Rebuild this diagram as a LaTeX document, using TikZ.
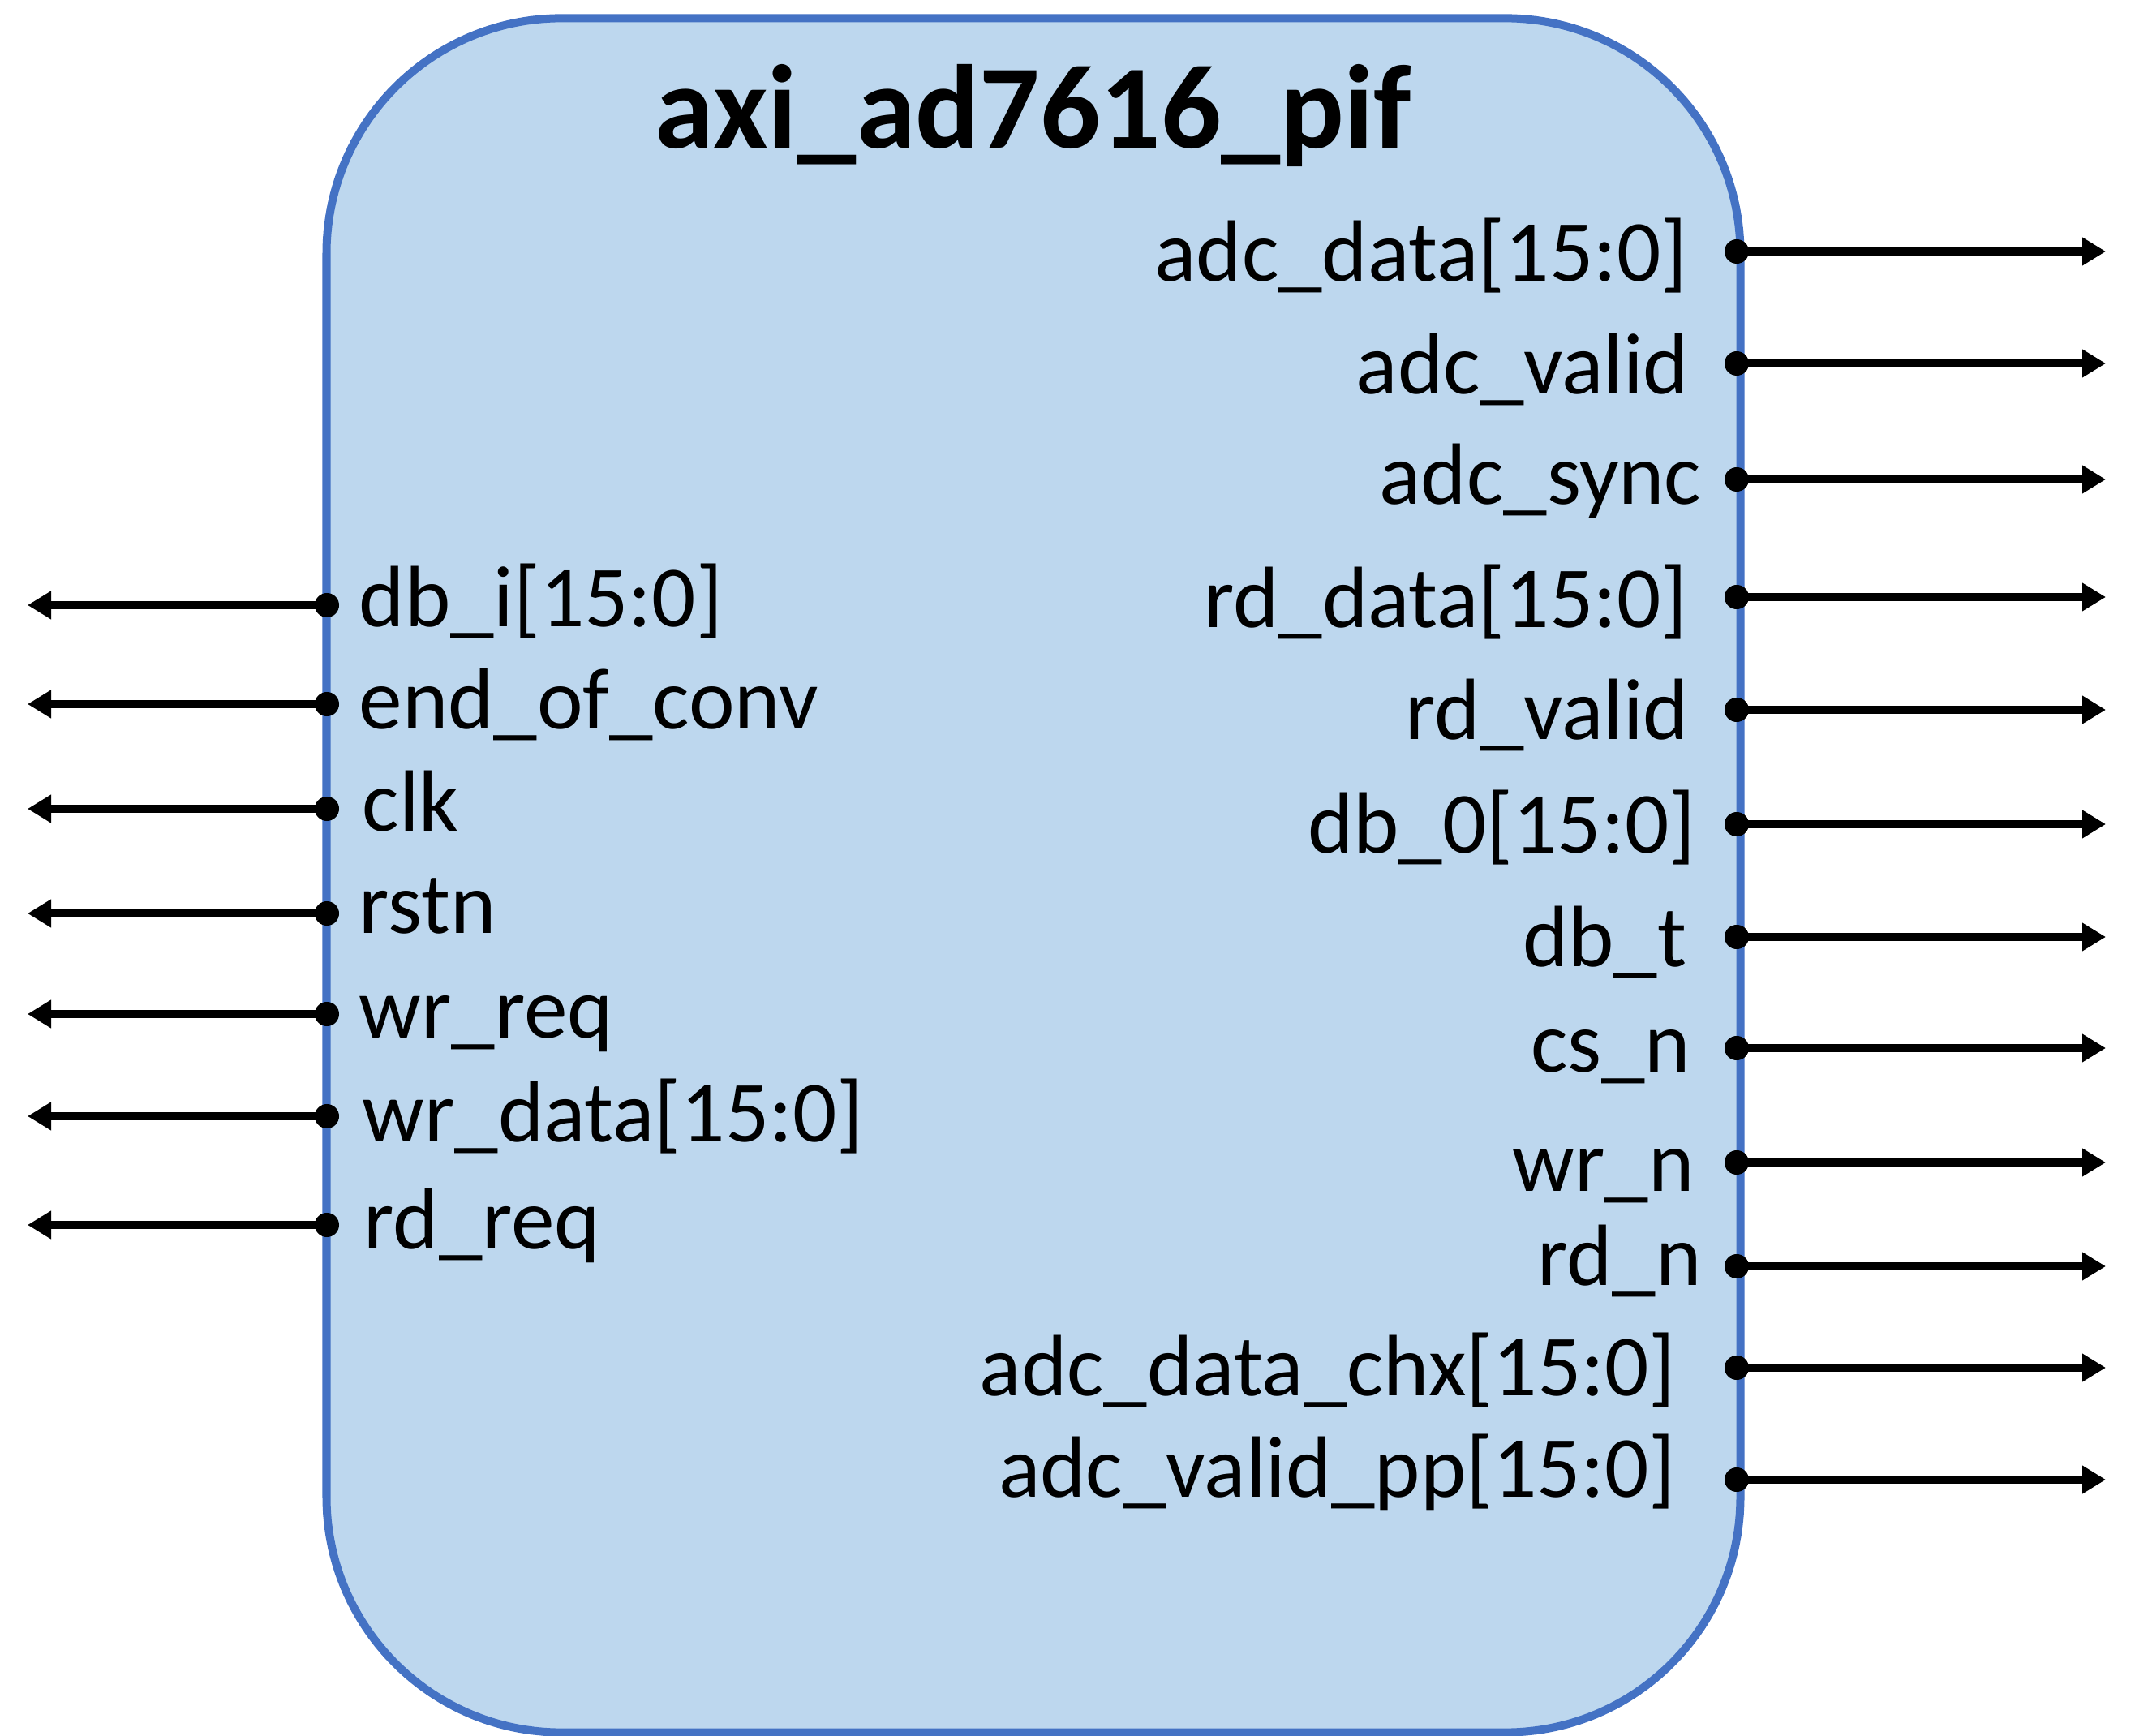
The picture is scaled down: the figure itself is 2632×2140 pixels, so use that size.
\documentclass[tikz,border=0pt]{standalone}
\usepackage{fontspec}
\setmainfont{Carlito}
\usetikzlibrary{arrows.meta}
\definecolor{boxline}{HTML}{4472C4}
\definecolor{boxfill}{HTML}{BDD7EE}
\tikzset{
  modbox/.style={draw=boxline, fill=boxfill, line width=0.1cm, rounded corners=2.9cm, inner sep=0},
  portdot/.style={circle, fill=black, inner sep=0, minimum size=0.3cm},
  sigarrow/.style={line width=0.1cm, -{Triangle[length=0.29cm,width=0.33cm]}},
  lbl/.style={inner sep=0, font=\fontsize{30.5}{36}\selectfont},
  ttl/.style={inner sep=0, font=\bfseries\fontsize{41.8}{49}\selectfont}
}
\begin{document}
\begin{tikzpicture}[x=0.01cm, y=-0.01cm]
\useasboundingbox (0,0) rectangle (2632,2140);
\node[modbox, minimum width=17.42cm, minimum height=21.12cm] (box) at (1274,1079) {};
\node[ttl, anchor=base] (title) at (1274,183) {axi\_ad7616\_pif};
% left ports: line y / baseline y / text x / text
\foreach \y/\b/\x/\t [count=\i] in {746/773/442/db\_i[15:0], 868/899/442/end\_of\_conv, 997/1025/446/clk, 1126/1151/442/rstn, 1250/1280/442/wr\_req, 1376/1407/446/wr\_data[15:0], 1510/1539/448/rd\_req}{
  \node[portdot] (dl\i) at (403,\y) {};
  \coordinate (tl\i) at (34,\y);
  \draw[sigarrow] (dl\i.center) -- (tl\i);
  \node[lbl, anchor=base west] (ll\i) at (\x,\b) {\t};
}
% right ports
\foreach \y/\b/\x/\t [count=\i] in {310/347/2081/adc\_data[15:0], 448/486/2083/adc\_valid, 591/622/2098/adc\_sync, 736/774/2081/rd\_data[15:0], 875/912/2083/rd\_valid, 1016/1052/2091/db\_0[15:0], 1155/1192/2080/db\_t, 1292/1321/2085/cs\_n, 1433/1468/2089/wr\_n, 1561/1584/2098/rd\_n, 1686/1720/2066/adc\_data\_chx[15:0], 1824/1845/2066/adc\_valid\_pp[15:0]}{
  \node[portdot] (dr\i) at (2141,\y) {};
  \coordinate (tr\i) at (2596,\y);
  \draw[sigarrow] (dr\i.center) -- (tr\i);
  \node[lbl, anchor=base east] (lr\i) at (\x,\b) {\t};
}
\end{tikzpicture}
\end{document}
